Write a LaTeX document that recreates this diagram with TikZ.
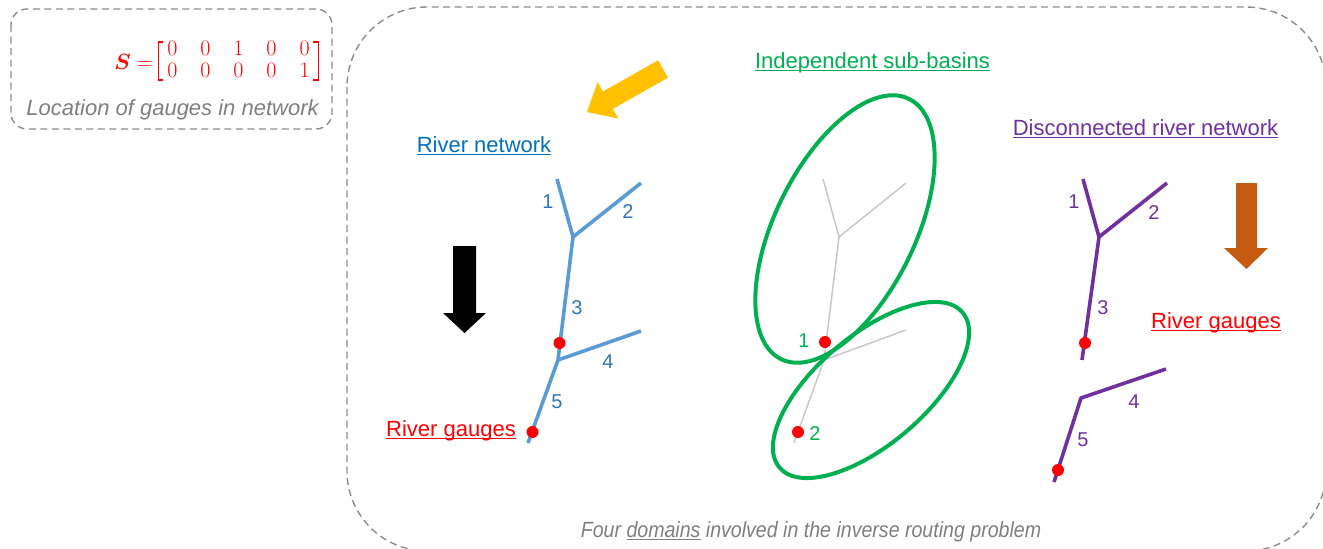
\RequirePackage{fix-cm}
\documentclass[tikz,border=0pt]{standalone}
\usepackage{fontspec}
\setmainfont{Liberation Sans}
\usepackage{amsmath}
\definecolor{dashgray}{HTML}{8C8C8C}
\definecolor{txtgray}{HTML}{7F7F7F}
\definecolor{rnblue}{HTML}{0070C0}
\definecolor{lnblue}{HTML}{5B9BD5}
\definecolor{numblue}{HTML}{2E75B6}
\definecolor{gred}{HTML}{FF0000}
\definecolor{sbgreen}{HTML}{00B050}
\definecolor{dpurple}{HTML}{7030A0}
\definecolor{ayellow}{HTML}{FFC000}
\definecolor{aorange}{HTML}{C55A11}
\definecolor{lgray}{HTML}{C8C8C8}
\newcommand\ulx[1]{\setbox0\hbox{#1}\rlap{\rule[-3.2pt]{\wd0}{1.4pt}}\box0\relax}
\begin{document}
\begin{tikzpicture}[x=1pt,y=-1pt,
 dbox/.style={draw=dashgray, line width=1.4pt, dash pattern=on 7pt off 4.5pt},
 txt/.style={inner sep=0pt, anchor=base, font=\fontsize{22}{26}\selectfont},
 num/.style={inner sep=0pt, font=\fontsize{20}{24}\selectfont},
 riv/.style={line width=3.6pt, line join=round},
 griv/.style={line width=1.5pt, draw=lgray, line join=round},
 basin/.style={draw=sbgreen, line width=4pt},
 gauge/.style={circle, fill=gred, inner sep=0pt, minimum size=12pt}
]
\useasboundingbox (0,0) rectangle (1323,549);
% dashed frames
\draw[dbox, rounded corners=16pt] (11,9) rectangle (332,129);
\draw[dbox, rounded corners=80pt] (347,7) rectangle (1326,551);
% gauge location matrix
\node[inner sep=0pt, text=gred, font=\fontsize{22}{22}\selectfont, anchor=east] (Slab) at (153,62) {$\boldsymbol{S}=$};
\node[inner sep=0pt, text=gred, font=\fontsize{22}{22}\selectfont] (M) at (238.5,62) {$\arraycolsep=11.5pt\begin{array}{@{}ccccc@{}}0&0&1&0&0\\0&0&0&0&1\end{array}$};
\draw[gred, line width=1.2pt] (163,42) -- (158.5,42) -- (158.5,80) -- (163,80);
\draw[gred, line width=1.2pt] (313,42) -- (318.5,42) -- (318.5,80) -- (313,80);
\node[txt, text=txtgray, font=\itshape\fontsize{22}{26}\selectfont] (loc) at (172.5,115) {Location of gauges in network};
% block arrows
\fill[ayellow] (658.1,60.3) -- (603.0,91.5) -- (597.6,81.9) -- (587,112) -- (618.2,118.5) -- (612.8,108.9) -- (667.9,77.7) -- cycle;
\fill[black] (453,246) -- (476,246) -- (476,313) -- (486,313) -- (464.5,333) -- (443,313) -- (453,313) -- cycle;
\fill[aorange] (1236,183) -- (1257,183) -- (1257,248) -- (1268,248) -- (1246.5,269) -- (1224,248) -- (1236,248) -- cycle;
% titles
\node[txt, text=rnblue] (rn) at (484,152) {\ulx{River network}};
\node[txt, text=gred] (rgL) at (451,436) {\ulx{River gauges}};
\node[txt, text=sbgreen] (isb) at (872.5,68) {\ulx{Independent sub-basins}};
\node[txt, text=dpurple] (drn) at (1145.5,135) {\ulx{Disconnected river network}};
\node[txt, text=gred] (rgR) at (1216,328) {\ulx{River gauges}};
\node[txt, text=txtgray, font=\itshape\fontsize{22}{26}\selectfont] (cap) at (811,537) {\scalebox{0.89}[1]{Four \ulx{domains} involved in the inverse routing problem}};
% river network (blue)
\coordinate (b1) at (557,179);
\coordinate (bA) at (573,237);
\coordinate (b2) at (641,183);
\coordinate (bB) at (558,360);
\coordinate (b4) at (641,331);
\coordinate (b5) at (528,443);
\draw[riv, lnblue] (b1) -- (bA) -- (b2);
\draw[riv, lnblue] (bA) -- (bB) -- (b5);
\draw[riv, lnblue] (bB) -- (b4);
\node[gauge] (bg1) at (559.5,343) {};
\node[gauge] (bg2) at (532.5,432) {};
\node[num, text=numblue] (bn1) at (548,202) {1};
\node[num, text=numblue] (bn2) at (628,212) {2};
\node[num, text=numblue] (bn3) at (577,308) {3};
\node[num, text=numblue] (bn4) at (608,362) {4};
\node[num, text=numblue] (bn5) at (557,402) {5};
% sub-basins (grey network + green ellipses)
\coordinate (g1) at (823,179);
\coordinate (gA) at (839,237);
\coordinate (g2) at (906,183);
\coordinate (gB) at (824,360);
\coordinate (g4) at (906,330);
\coordinate (g5) at (794,443);
\draw[griv] (g1) -- (gA) -- (g2);
\draw[griv] (gA) -- (gB) -- (g5);
\draw[griv] (gB) -- (g4);
\draw[basin, rotate around={63.8:(845,229)}] (845,229) ellipse [x radius=145, y radius=70];
\draw[basin, rotate around={40.3:(871,390)}] (871,390) ellipse [x radius=120, y radius=54.5];
\node[gauge] (gg1) at (825,342) {};
\node[gauge] (gg2) at (798,432) {};
\node[num, text=sbgreen] (gn1) at (804,341) {1};
\node[num, text=sbgreen] (gn2) at (815,434) {2};
% disconnected network (purple)
\coordinate (p1) at (1083,179);
\coordinate (pA) at (1099,237);
\coordinate (p2) at (1167,183);
\coordinate (p3) at (1082,360);
\coordinate (pB) at (1081,398);
\coordinate (p4) at (1166,369);
\coordinate (p5) at (1054,482);
\draw[riv, dpurple] (p1) -- (pA) -- (p2);
\draw[riv, dpurple] (pA) -- (p3);
\draw[riv, dpurple] (p4) -- (pB) -- (p5);
\node[gauge] (pg1) at (1085,343) {};
\node[gauge] (pg2) at (1058,470) {};
\node[num, text=dpurple] (pn1) at (1074,202) {1};
\node[num, text=dpurple] (pn2) at (1154,213) {2};
\node[num, text=dpurple] (pn3) at (1103,308) {3};
\node[num, text=dpurple] (pn4) at (1134,402) {4};
\node[num, text=dpurple] (pn5) at (1083,440) {5};
\end{tikzpicture}
\end{document}
